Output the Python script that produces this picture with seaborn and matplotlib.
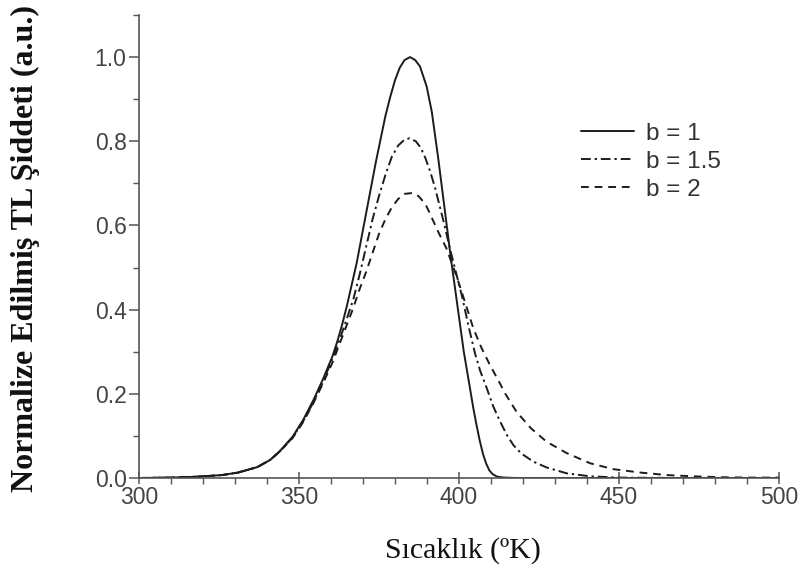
import matplotlib
matplotlib.use("Agg")
import matplotlib.pyplot as plt
from matplotlib.ticker import MultipleLocator, FormatStrFormatter
import pandas as pd
import seaborn as sns

# Normalised thermoluminescence glow curves for kinetic orders b = 1, 1.5, 2
temp_b1 = [300, 310, 318, 326, 331, 337, 341, 344, 348, 351.3, 354.5, 357.5,
           360.5, 362, 363.5, 365, 366.5, 368, 369.5, 371, 372.5, 374, 375.5,
           377, 378.5, 380, 381.5, 383, 384.7, 386.3, 387.8, 389.9, 391.5,
           392.5, 393.5, 394.5, 395.5, 396.5, 397.5, 398.5, 399.5, 400.5,
           401.5, 402.5, 403.5, 404.5, 405.5, 406.5, 407.5, 408.5, 409.5,
           410.5, 412, 414, 418, 430, 500]
glow_b1 = [0.0, 0.001, 0.003, 0.007, 0.013, 0.026, 0.043, 0.064, 0.098, 0.138,
           0.185, 0.235, 0.29, 0.325, 0.365, 0.41, 0.46, 0.51, 0.57, 0.63,
           0.69, 0.75, 0.805, 0.86, 0.905, 0.945, 0.975, 0.993, 1.0, 0.993,
           0.978, 0.93, 0.87, 0.815, 0.76, 0.70, 0.64, 0.58, 0.52, 0.465,
           0.41, 0.355, 0.30, 0.255, 0.21, 0.165, 0.125, 0.088, 0.057, 0.034,
           0.018, 0.009, 0.003, 0.001, 0.0, 0.0, 0.0]

temp_b15 = [300, 310, 318, 326, 331, 337, 341, 344, 348, 351.3, 354.5, 357.5,
            360.5, 363, 365, 367, 369, 371, 373, 375, 377, 379, 381, 383,
            384.5, 386.5, 388, 389.5, 391, 392.5, 394, 395.5, 397, 399, 401,
            403, 405, 406.6, 408.6, 410.7, 412.8, 414.9, 417, 419.5, 423.2,
            427.4, 433.7, 441, 450, 470, 500]
glow_b15 = [0.0, 0.001, 0.003, 0.007, 0.013, 0.026, 0.043, 0.063, 0.096,
            0.135, 0.18, 0.228, 0.285, 0.335, 0.38, 0.425, 0.485, 0.55, 0.615,
            0.67, 0.72, 0.763, 0.79, 0.804, 0.807, 0.80, 0.785, 0.76, 0.728,
            0.69, 0.645, 0.60, 0.55, 0.49, 0.43, 0.36, 0.296, 0.255, 0.215,
            0.17, 0.135, 0.103, 0.078, 0.058, 0.039, 0.025, 0.011, 0.004,
            0.001, 0.0, 0.0]

temp_b2 = [300, 310, 318, 326, 331, 337, 341, 344, 348, 351.3, 354.5, 357.5,
           360.5, 363, 365, 367, 369, 371, 373, 375, 377, 379, 381, 383,
           385.3, 387.3, 389.4, 390.5, 392, 393.5, 396.1, 399.3, 402, 404.5,
           407.1, 409.7, 412.3, 414.4, 418, 422.5, 427.4, 433.7, 441, 448.2,
           456.6, 464.9, 473.2, 481, 490, 500]
glow_b2 = [0.0, 0.001, 0.003, 0.007, 0.013, 0.026, 0.043, 0.063, 0.095,
           0.133, 0.178, 0.225, 0.275, 0.325, 0.365, 0.405, 0.45, 0.49, 0.535,
           0.58, 0.615, 0.643, 0.663, 0.675, 0.677, 0.67, 0.652, 0.635, 0.61,
           0.585, 0.545, 0.478, 0.415, 0.355, 0.308, 0.268, 0.232, 0.201,
           0.157, 0.118, 0.086, 0.059, 0.035, 0.021, 0.013, 0.007, 0.004,
           0.002, 0.001, 0.001]

order_labels = ["b = 1", "b = 1.5", "b = 2"]

x_ticks = [300, 350, 400, 450, 500]
y_ticks = [0.0, 0.2, 0.4, 0.6, 0.8, 1.0]

frames = []
for label, temps, glow in zip(order_labels,
                              [temp_b1, temp_b15, temp_b2],
                              [glow_b1, glow_b15, glow_b2]):
    frames.append(pd.DataFrame({"T": temps, "I": glow, "order": label}))
df = pd.concat(frames, ignore_index=True)

sns.set_theme(style="ticks")
plt.rcParams["font.family"] = ["Liberation Sans", "DejaVu Sans"]

fig = plt.figure(figsize=(8.02, 5.76), dpi=100)
ax = fig.add_axes([139 / 802, 1 - 478 / 576, 640 / 802, 463 / 576])

line_color = "#1c1c1c"
sns.lineplot(
    data=df, x="T", y="I", style="order", style_order=order_labels,
    dashes={"b = 1": "", "b = 1.5": (5, 2, 1.2, 2), "b = 2": (4, 3)},
    color=line_color, linewidth=1.4, estimator=None, sort=True, ax=ax,
)

ax.set_xlim(300, 500)
ax.set_ylim(0, 1.1)
ax.set_xticks(x_ticks)
ax.set_yticks(y_ticks)
ax.xaxis.set_minor_locator(MultipleLocator(10))
ax.yaxis.set_minor_locator(MultipleLocator(0.1))
ax.yaxis.set_major_formatter(FormatStrFormatter("%.1f"))

axis_color = "#555555"
for side in ("top", "right"):
    ax.spines[side].set_visible(False)
for side in ("left", "bottom"):
    ax.spines[side].set_color(axis_color)
    ax.spines[side].set_linewidth(1.2)

ax.tick_params(axis="x", which="major", direction="inout", length=9,
               width=1.1, color=axis_color, labelcolor="#444444",
               labelsize=16.5, pad=1)
ax.tick_params(axis="x", which="minor", direction="out", length=4,
               width=1.0, color=axis_color)
ax.tick_params(axis="y", which="major", direction="out", length=7,
               width=1.1, color=axis_color, labelcolor="#444444",
               labelsize=16.5, pad=2)
ax.tick_params(axis="y", which="minor", direction="out", length=4,
               width=1.0, color=axis_color)

ax.set_xlabel("")
ax.set_ylabel("")

handles, labels = ax.get_legend_handles_labels()
pairs = [(h, l) for h, l in zip(handles, labels) if l in order_labels]
ax.legend([p[0] for p in pairs], [p[1] for p in pairs],
          loc="upper left", bbox_to_anchor=(0.69, 0.767), frameon=False,
          fontsize=17.5, labelcolor="#333333", handlelength=2.2,
          handletextpad=0.5, labelspacing=0.24, borderpad=0,
          borderaxespad=0)

fig.text(25 / 802, 1 - 248 / 576, "Normalize Edilmiş TL Şiddeti (a.u.)",
         rotation=90, ha="center", va="center", fontsize=23,
         fontweight="bold", family=["Liberation Serif", "DejaVu Serif"],
         color="#111111")
fig.text(463 / 802, 1 - 551 / 576, "Sıcaklık (ºK)", ha="center",
         va="center", fontsize=21.5, family=["Liberation Serif", "DejaVu Serif"],
         color="#111111")

fig.savefig("out.png", dpi=100)
